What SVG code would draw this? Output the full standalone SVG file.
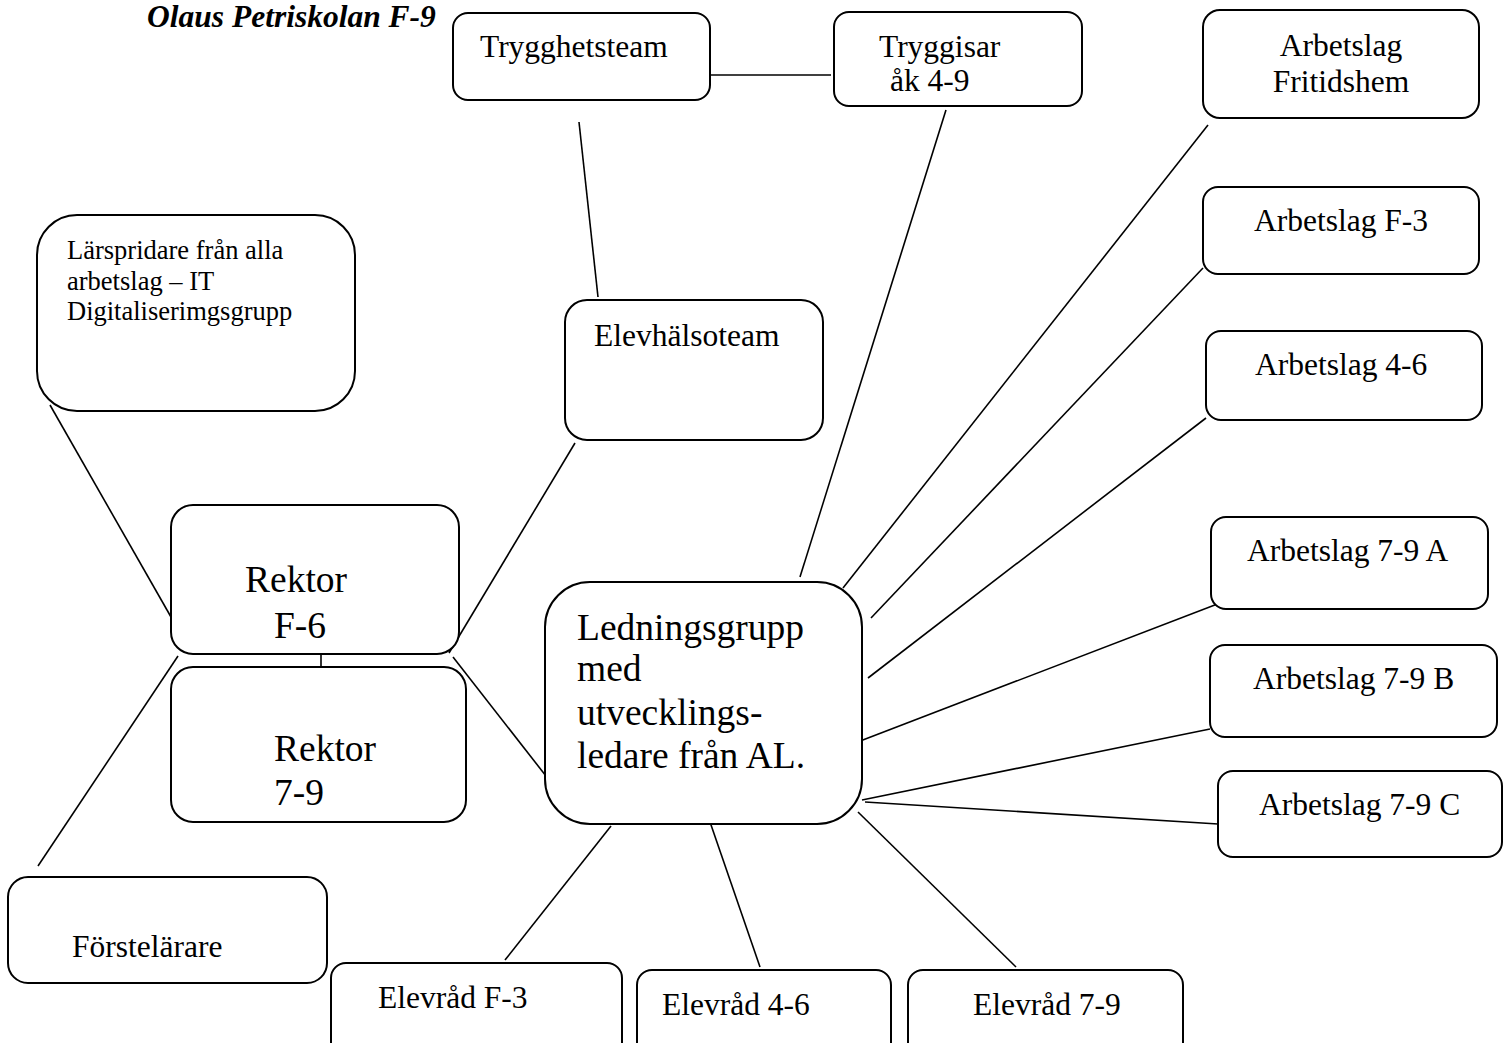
<svg xmlns="http://www.w3.org/2000/svg" width="1504" height="1043" viewBox="0 0 1504 1043">
<style>
.box{fill:#fff;stroke:#000;stroke-width:2}
.t{font-family:"Liberation Serif","Times New Roman",serif;fill:#000;font-size:31.5px}
.c line{stroke:#000;stroke-width:1.6}
</style>
<rect width="1504" height="1043" fill="#fff"/>
<text class="t" x="147" y="27" style="font-size:31.5px" font-weight="bold" font-style="italic">Olaus Petriskolan F-9</text>
<g class="c">
<line x1="710" y1="75" x2="831" y2="75"/>
<line x1="579" y1="122" x2="598" y2="297"/>
<line x1="946" y1="110" x2="800" y2="577"/>
<line x1="1208" y1="125" x2="843" y2="588"/>
<line x1="1203" y1="268" x2="871" y2="618"/>
<line x1="1206" y1="418" x2="868" y2="678"/>
<line x1="1220" y1="603" x2="855" y2="743"/>
<line x1="1210" y1="729" x2="862" y2="800"/>
<line x1="1218" y1="824" x2="865" y2="802"/>
<line x1="575" y1="443" x2="449" y2="653"/>
<line x1="453" y1="657" x2="553" y2="785"/>
<line x1="50" y1="405" x2="175" y2="624"/>
<line x1="38" y1="866" x2="178" y2="656"/>
<line x1="611" y1="826" x2="505" y2="960"/>
<line x1="710" y1="822" x2="760" y2="967"/>
<line x1="858" y1="812" x2="1016" y2="967"/>
<line x1="321" y1="650" x2="321" y2="674"/>
</g>
<g id="trygghetsteam"><rect class="box" x="453" y="13" width="257" height="87" rx="15"/><text class="t" x="480" y="57">Trygghetsteam</text></g>
<g id="tryggisar"><rect class="box" x="834" y="12" width="248" height="94" rx="15"/><text class="t" x="879" y="57">Tryggisar</text><text class="t" x="890" y="91">åk 4-9</text></g>
<g id="fritidshem"><rect class="box" x="1203" y="10" width="276" height="108" rx="17"/><text class="t" x="1341" y="56" text-anchor="middle">Arbetslag</text><text class="t" x="1341" y="92" text-anchor="middle">Fritidshem</text></g>
<g id="al-f3"><rect class="box" x="1203" y="187" width="276" height="87" rx="15"/><text class="t" x="1341" y="231" text-anchor="middle">Arbetslag F-3</text></g>
<g id="al-46"><rect class="box" x="1206" y="331" width="276" height="89" rx="15"/><text class="t" x="1255" y="375">Arbetslag 4-6</text></g>
<g id="al-79a"><rect class="box" x="1211" y="517" width="277" height="92" rx="15"/><text class="t" x="1247" y="561">Arbetslag 7-9 A</text></g>
<g id="al-79b"><rect class="box" x="1210" y="645" width="287" height="92" rx="15"/><text class="t" x="1253" y="689">Arbetslag 7-9 B</text></g>
<g id="al-79c"><rect class="box" x="1218" y="771" width="284" height="86" rx="15"/><text class="t" x="1259" y="815">Arbetslag 7-9 C</text></g>
<g id="larspridare"><rect class="box" x="37" y="215" width="318" height="196" rx="40"/><text class="t" style="font-size:26.5px"><tspan x="67" y="259">Lärspridare från alla</tspan><tspan x="67" y="290">arbetslag – IT</tspan><tspan x="67" y="320">Digitaliserimgsgrupp</tspan></text></g>
<g id="elevhalsoteam"><rect class="box" x="565" y="300" width="258" height="140" rx="22"/><text class="t" x="594" y="346">Elevhälsoteam</text></g>
<g id="rektor-f6"><rect class="box" x="171" y="505" width="288" height="149" rx="22"/><text class="t" style="font-size:37.5px" x="245" y="592">Rektor</text><text class="t" style="font-size:37.5px" x="274" y="638">F-6</text></g>
<g id="rektor-79"><rect class="box" x="171" y="667" width="295" height="155" rx="22"/><text class="t" style="font-size:37.5px" x="274" y="761">Rektor</text><text class="t" style="font-size:37.5px" x="274" y="805">7-9</text></g>
<g id="ledningsgrupp"><rect class="box" x="545" y="582" width="317" height="242" rx="45"/><text class="t" style="font-size:37.5px"><tspan x="577" y="640">Ledningsgrupp</tspan><tspan x="577" y="681">med</tspan><tspan x="577" y="725">utvecklings-</tspan><tspan x="577" y="768">ledare från AL.</tspan></text></g>
<g id="forstelarare"><rect class="box" x="8" y="877" width="319" height="106" rx="20"/><text class="t" x="72" y="957">Förstelärare</text></g>
<g id="elevrad-f3"><rect class="box" x="331" y="963" width="291" height="110" rx="15"/><text class="t" x="378" y="1008">Elevråd F-3</text></g>
<g id="elevrad-46"><rect class="box" x="637" y="970" width="254" height="110" rx="15"/><text class="t" x="662" y="1015">Elevråd 4-6</text></g>
<g id="elevrad-79"><rect class="box" x="908" y="970" width="275" height="110" rx="15"/><text class="t" x="973" y="1015">Elevråd 7-9</text></g>
</svg>
